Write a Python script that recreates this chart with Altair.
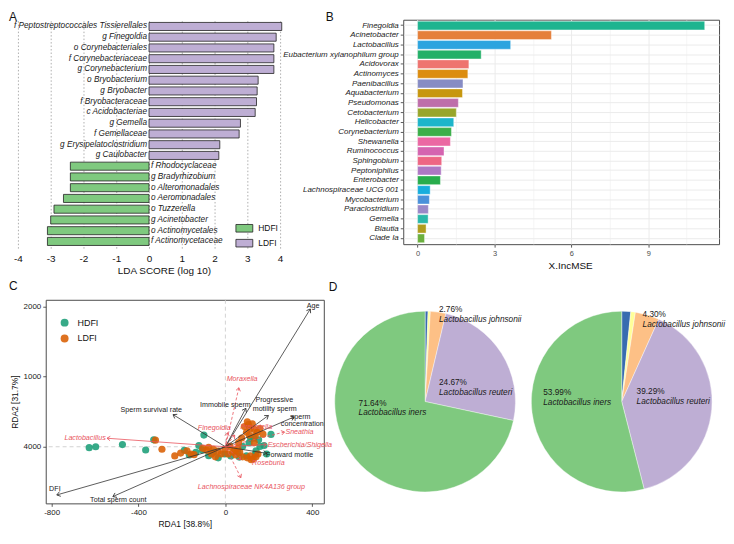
import math
import altair as alt
import pandas as pd

FONT = "Liberation Sans"

# ---------------- Panel A : LEfSe LDA scores ----------------
A_TAXA = [
    "f Peptostreptococcales Tissierellales", "g Finegoldia", "o Corynebacteriales",
    "f Corynebacteriaceae", "g Corynebacterium", "o Bryobacterium", "g Bryobacter",
    "f Bryobacteraceae", "c Acidobacteriae", "g Gemella", "f Gemellaceae",
    "g Erysipelatoclostridium", "g Caulobacter", "f Rhodocyclaceae", "g Bradyrhizobium",
    "o Alteromonadales", "o Aeromonadales", "o Tuzzerella", "g Acinetobacter",
    "o Actinomycetales", "f Actinomycetaceae",
]
A_LDA = [4.05, 3.88, 3.81, 3.81, 3.81, 3.33, 3.30, 3.28, 3.24, 2.79, 2.75, 2.16, 2.13,
         -2.40, -2.40, -2.40, -2.61, -2.90, -3.00, -3.10, -3.10]
A_GROUP = ["LDFI"] * 13 + ["HDFI"] * 8
A_TICKS = [-4, -3, -2, -1, 0, 1, 2, 3, 4]
GROUPS = ["HDFI", "LDFI"]
A_COLORS = ["#7FC97F", "#BEAED4"]

# ---------------- Panel B : random forest importance ----------------
B_GENERA = [
    "Finegoldia", "Acinetobacter", "Lactobacillus", "Eubacterium xylanophilum group",
    "Acidovorax", "Actinomyces", "Paenibacillus", "Aquabacterium", "Pseudomonas",
    "Cetobacterium", "Helicobacter", "Corynebacterium", "Shewanella", "Ruminococcus",
    "Sphingobium", "Peptoniphilus", "Enterobacter", "Lachnospiraceae UCG 001",
    "Mycobacterium", "Paraclostridium", "Gemella", "Blautia", "Clade Ia",
]
B_VALUES = [11.2, 5.22, 3.63, 2.48, 2.00, 1.96, 1.77, 1.75, 1.59, 1.51, 1.41, 1.32, 1.28,
            1.03, 0.94, 0.92, 0.89, 0.49, 0.46, 0.42, 0.41, 0.33, 0.27]
B_COLORS = [
    "#1EB48F", "#E57F3A", "#2CA4DF", "#23B068", "#EE746F", "#DC8D10", "#878CC4",
    "#C7970E", "#BE6EAA", "#98A62A", "#1DB5CA", "#3BAF49", "#EB68A3", "#D564B0",
    "#EE6684", "#AE78C4", "#28AD4D", "#17AEDD", "#4A91DA", "#9A88C8", "#2AB8AA",
    "#B09D1E", "#6BB03E",
]
B_TICKS = [0, 1.5, 3, 4.5, 6, 7.5, 9, 10.5]

# ---------------- Panel C : RDA biplot ----------------
C_HDFI_X = [-627, -597, -474, -367, -330, -166, -99, -33, 210, 178, 141, 109, 116, 64, -107,
            -136, -77, 138, 153, 131, 57, -3, -55, 25, -189, 190, 97, -122, 159, 79]
C_HDFI_Y = [-13, 0, 31, -46, 98, -117, 166, -158, 175, 18, -59, 54, 121, -148, -46,
            -81, -127, -104, 98, 121, -81, -104, -77, -131, -50, -104, -131, 18, 4, 4]
C_LDFI_X = [-322, -292, -206, -177, -144, -159, -86, -77, -55, -33, -19, 12, 34, 48, 66,
            79, 101, 115, 128, 141, 88, 106, 115, 124, 133, 146, 159, 173, 97, 110,
            137, 75, -46, -1, 21, 43, 57, -104, -64, -233, 150, 119, 101, 61, 133]
C_LDFI_Y = [94, -36, -90, -59, -113, -104, -50, -9, -36, -63, -104, -104, -77, -117, -77,
            -144, -158, -131, -171, -144, 287, 314, 260, 328, 247, 206, 260, 179, 206, 166,
            152, 125, -144, -36, 4, -50, -23, -23, -104, -131, -104, -185, 355, 58, 58]
C_COLORS = ["#1B9E77", "#D95F02"]

ENV_NAMES = ["Age", "Progressive motility sperm", "Immobile sperm", "Sperm concentration",
             "Sperm survival rate", "Forward motile", "DFI", "Total sperm count"]
ENV_X = [391, 198, 94, 317, -241, 190, -776, -518]
ENV_Y = [1963, 445, 547, 426, 458, -94, -687, -710]
ENV_LABELS = ["Age", "Progressive", "motility sperm", "Immobile sperm", "sperm",
              "concentration", "Sperm survival rate", "Forward motile", "DFI",
              "Total sperm count"]
ENV_LABEL_X = [404, 225, 227, 0, 346, 354, -341, 296, -785, -493]
ENV_LABEL_Y = [1999, 660, 543, 601, 426, 318, 526, -113, -607, -764]

SP_NAMES = ["Lactobacillus", "Moraxella", "Finegoldia", "Prevotella", "Sneathia",
            "Escherichia/Shigella", "Roseburia", "Lachnospiraceae NK4A136 group"]
SP_X = [-545, 62, 10, 43, 272, 190, 71, 71]
SP_Y = [121, 840, 200, 166, 210, 31, -185, -440]
SP_LABEL_X = [-646, 77, -51, 142, 341, 343, 198, 120]
SP_LABEL_Y = [121, 965, 270, 278, 206, 27, -225, -576]
SP_DASHED = ["Moraxella", "Finegoldia", "Prevotella", "Sneathia", "Roseburia",
             "Lachnospiraceae NK4A136 group"]

# ---------------- Panel D : Lactobacillus composition ----------------
D_PIES = ["HDFI", "LDFI"]
D_SPECIES = ["Lactobacillus spp.", "Others", "Lactobacillus johnsonii",
             "Lactobacillus reuteri", "Lactobacillus iners"]
D_LEFT = [0.52, 0.41, 2.76, 24.67, 71.64]
D_RIGHT = [1.60, 0.82, 4.30, 39.29, 53.99]
D_COLORS = ["#386CB0", "#FFFF99", "#FDC086", "#BEAED4", "#7FC97F"]

# ---------------- layout / style ----------------
W1, W2 = 280, 318
H1, H2 = 230, 205
HB = 226
TXT = "#111111"
RED = "#E9545E"
DARK = "#333333"


def panel_title(letter, dx, offset):
    return alt.TitleParams(letter, anchor="start", frame="group", dx=dx, fontSize=12,
                           fontWeight="normal", color=TXT, offset=offset)


# ---- A ----
a_df = pd.DataFrame({"taxon": A_TAXA, "lda": A_LDA, "group": A_GROUP})
a_scale = alt.Scale(domain=[-4, 4], range=[-28, 236], nice=False, zero=False)
a_axis = alt.Axis(values=A_TICKS, labelExpr="'' + datum.value", grid=True, gridDash=[1.5, 2],
                  gridColor="#9a9a9a", gridWidth=0.8, domain=False, ticks=False,
                  labelFontSize=10, labelColor=TXT, labelPadding=5, labelFlush=False,
                  labelOverlap=False, titleFontSize=10, titleFontWeight="normal",
                  titleColor=TXT, titlePadding=3, titleX=119)
a_title = "LDA SCORE (log 10)"
a_y = alt.Y("taxon:N", sort=A_TAXA, axis=None,
            scale=alt.Scale(paddingInner=0.25, paddingOuter=0.25))
a_bars = alt.Chart(a_df).mark_bar(stroke="#222222", strokeWidth=0.8).encode(
    x=alt.X("lda:Q", title=a_title, scale=a_scale, axis=a_axis),
    x2=alt.datum(0),
    y=a_y,
    color=alt.Color("group:N", scale=alt.Scale(domain=GROUPS, range=A_COLORS),
                    legend=alt.Legend(orient="none", legendX=191, legendY=201, title=None,
                                      symbolType="M-1,-0.45H1V0.45H-1Z", symbolSize=289,
                                      symbolStrokeColor="#222222", symbolStrokeWidth=0.8,
                                      symbolOpacity=1, labelFontSize=8.5, labelColor=TXT,
                                      labelOffset=5, rowPadding=-2)),
)
a_text = alt.Chart(a_df).transform_calculate(zero="0")
a_pos = a_text.transform_filter("datum.lda > 0").mark_text(
    align="right", baseline="middle", dx=-2, fontSize=8.3, fontStyle="italic", color="#1a1a1a"
).encode(x=alt.X("zero:Q", title=a_title, scale=a_scale, axis=a_axis), y=a_y, text="taxon:N")
a_neg = a_text.transform_filter("datum.lda < 0").mark_text(
    align="left", baseline="middle", dx=2, fontSize=8.3, fontStyle="italic", color="#1a1a1a"
).encode(x=alt.X("zero:Q", title=a_title, scale=a_scale, axis=a_axis), y=a_y, text="taxon:N")
chart_a = alt.layer(a_bars, a_pos, a_neg).properties(
    width=W1, height=H1, title=panel_title("A", -37, -4))

# ---- B ----
b_df = pd.DataFrame({"genus": B_GENERA, "inc": B_VALUES})
major = "datum.value % 3 === 0"
b_axis_x = alt.Axis(values=B_TICKS, labelExpr=f"{major} ? datum.label : ''", grid=True,
                    gridColor="#EBEBEB",
                    gridWidth={"condition": {"test": major, "value": 1.0}, "value": 0.5},
                    tickColor={"condition": {"test": major, "value": DARK}, "value": "transparent"},
                    tickSize=3, tickWidth=0.8, domain=False, labelFontSize=7.5,
                    labelColor="#4D4D4D", labelPadding=2, labelFlush=False, labelOverlap=False,
                    titleFontSize=10, titleFontWeight="normal", titleColor=TXT,
                    titlePadding=4, titleX=168)
b_axis_y = alt.Axis(title=None, labelFontStyle="italic", labelFontSize=8, labelColor="#222222",
                    tickSize=3, tickColor=DARK, tickWidth=0.8, domain=False, grid=True,
                    gridColor="#EBEBEB", gridWidth=1, labelPadding=2, bandPosition=0.5)
chart_b = alt.Chart(b_df).mark_bar(stroke="#ffffff", strokeWidth=0.5, strokeOpacity=0.8).encode(
    x=alt.X("inc:Q", title="X.IncMSE",
            scale=alt.Scale(domain=[-0.56, 11.76], nice=False, zero=False), axis=b_axis_x),
    x2=alt.datum(0),
    y=alt.Y("genus:N", sort=B_GENERA, axis=b_axis_y,
            scale=alt.Scale(paddingInner=0.1, paddingOuter=0.15)),
    color=alt.Color("genus:N", scale=alt.Scale(domain=B_GENERA, range=B_COLORS), legend=None),
).properties(width=W2, height=HB, title=panel_title("B", -78, -4),
             view=alt.ViewBackground(stroke="#4d4d4d", strokeWidth=1))

# ---- C ----
C_XDOM = [-827, 453]
C_YDOM = [-807, 2094]
KX = W1 / (C_XDOM[1] - C_XDOM[0])
KY = H2 / (C_YDOM[1] - C_YDOM[0])
cx = alt.X("x:Q", title="RDA1 [38.8%]", scale=alt.Scale(domain=C_XDOM, nice=False, zero=False),
           axis=alt.Axis(values=[-800, -400, 0, 400], labelExpr="'' + datum.value",
                         grid=False, domain=False,
                         tickSize=3, tickColor=DARK, tickWidth=0.8, labelFontSize=8,
                         labelColor="#222222", labelPadding=2, labelFlush=False,
                         labelOverlap=False, titleFontSize=8.5, titleFontWeight="normal",
                         titleColor=TXT, titlePadding=3))
cy = alt.Y("y:Q", title="RDA2 [31.7%]", scale=alt.Scale(domain=C_YDOM, nice=False, zero=False),
           axis=alt.Axis(values=[0, 1000, 2000],
                         labelExpr="datum.value === 0 ? '4000' : '' + datum.value",
                         grid=False, domain=False, tickSize=3, tickColor=DARK, tickWidth=0.8,
                         labelFontSize=8, labelColor="#222222", labelPadding=2,
                         labelFlush=False, labelOverlap=False, titleFontSize=8.5,
                         titleFontWeight="normal", titleColor=TXT, titlePadding=4))

pts_df = pd.DataFrame({
    "x": C_HDFI_X + C_LDFI_X,
    "y": C_HDFI_Y + C_LDFI_Y,
    "group": ["HDFI"] * len(C_HDFI_X) + ["LDFI"] * len(C_LDFI_X),
})
zero_df = pd.DataFrame({"x": [0], "y": [0]})
env_df = pd.DataFrame({"x": ENV_X, "y": ENV_Y, "name": ENV_NAMES})
env_lab_df = pd.DataFrame({"x": ENV_LABEL_X, "y": ENV_LABEL_Y, "label": ENV_LABELS})
sp_df = pd.DataFrame({"x": SP_X, "y": SP_Y, "name": SP_NAMES,
                      "dashed": [n in SP_DASHED for n in SP_NAMES]})
sp_lab_df = pd.DataFrame({"x": SP_LABEL_X, "y": SP_LABEL_Y, "label": SP_NAMES})

CHEVRON = "M-0.7,1L0,0L0.7,1"
ang_expr = f"(atan2(datum.x * {KX}, datum.y * {KY}) * 180 / PI + 360) % 360"

zero_v = alt.Chart(zero_df).mark_rule(color="#c8c8c8", strokeDash=[4, 3], strokeWidth=0.8).encode(x=cx)
zero_h = alt.Chart(zero_df).mark_rule(color="#c8c8c8", strokeDash=[4, 3], strokeWidth=0.8).encode(y=cy)
points = alt.Chart(pts_df).mark_circle(size=52, opacity=0.88).encode(
    x=cx, y=cy,
    color=alt.Color("group:N", scale=alt.Scale(domain=GROUPS, range=C_COLORS),
                    legend=alt.Legend(orient="none", legendX=14, legendY=18, title=None,
                                      symbolType="circle", symbolSize=64, symbolOpacity=0.88,
                                      labelFontSize=9, labelColor=TXT, labelOffset=8,
                                      rowPadding=6)),
)
env_shaft = alt.Chart(env_df).transform_calculate(x0="0", y0="0").mark_rule(
    color=DARK, strokeWidth=0.8).encode(x=cx, y=cy, x2="x0:Q", y2="y0:Q")
env_head = alt.Chart(env_df).transform_calculate(ang=ang_expr).mark_point(
    shape=CHEVRON, filled=False, size=49, strokeWidth=0.8, color=DARK, opacity=1
).encode(x=cx, y=cy, angle=alt.Angle("ang:Q", scale=None))
sp_solid = alt.Chart(sp_df).transform_filter("!datum.dashed").transform_calculate(
    x0="0", y0="0").mark_rule(color=RED, strokeWidth=0.8).encode(x=cx, y=cy, x2="x0:Q", y2="y0:Q")
sp_dash = alt.Chart(sp_df).transform_filter("datum.dashed").transform_calculate(
    x0="0", y0="0").mark_rule(color=RED, strokeWidth=0.8, strokeDash=[3, 2]).encode(
    x=cx, y=cy, x2="x0:Q", y2="y0:Q")
sp_head = alt.Chart(sp_df).transform_calculate(ang=ang_expr).mark_point(
    shape=CHEVRON, filled=False, size=40, strokeWidth=0.8, color=RED, opacity=1
).encode(x=cx, y=cy, angle=alt.Angle("ang:Q", scale=None))
env_text = alt.Chart(env_lab_df).mark_text(fontSize=7.2, color="#1a1a1a", baseline="middle").encode(
    x=cx, y=cy, text="label:N")
sp_text = alt.Chart(sp_lab_df).mark_text(fontSize=7.2, color=RED, fontStyle="italic",
                                         baseline="middle").encode(x=cx, y=cy, text="label:N")
chart_c = alt.layer(zero_v, zero_h, points, env_shaft, sp_solid, sp_dash, env_head, sp_head,
                    env_text, sp_text).properties(
    width=W1, height=H2, title=panel_title("C", -37, 6),
    view=alt.ViewBackground(stroke="#4d4d4d", strokeWidth=1))

# ---- D ----
d_df = pd.DataFrame({
    "pie": [D_PIES[0]] * len(D_SPECIES) + [D_PIES[1]] * len(D_SPECIES),
    "species": D_SPECIES * 2,
    "pct": D_LEFT + D_RIGHT,
    "rank": list(range(len(D_SPECIES))) * 2,
})
d_x = alt.X("pie:N", axis=None,
            scale=alt.Scale(type="point", domain=D_PIES, range=[22, 220], padding=0))
d_base = alt.Chart(d_df).transform_window(
    end="sum(pct)", groupby=["pie"], sort=[alt.SortField("rank")], frame=[None, 0]
).transform_calculate(start="datum.end - datum.pct",
                      pct_label="format(datum.pct, '.2f') + '%'")
arcs = d_base.mark_arc(radius=91, stroke="#ffffff", strokeWidth=0.4).encode(
    theta=alt.Theta("start:Q", stack=None,
                    scale=alt.Scale(domain=[0, 100], range=[0, 2 * math.pi])),
    theta2="end:Q",
    x=d_x,
    color=alt.Color("species:N", scale=alt.Scale(domain=D_SPECIES, range=D_COLORS), legend=None),
)
# label placement relative to each pie centre: (dx, dy of percentage, dy of name)
D_LABEL_POS = {
    ("HDFI", "Lactobacillus johnsonii"): (14, -92, -82),
    ("HDFI", "Lactobacillus reuteri"): (14, -19, -9),
    ("HDFI", "Lactobacillus iners"): (-67, 2, 12),
    ("LDFI", "Lactobacillus johnsonii"): (21, -87, -77),
    ("LDFI", "Lactobacillus reuteri"): (15, -10, 0),
    ("LDFI", "Lactobacillus iners"): (-79, -9, 1),
}
d_layers = [arcs]
for (pie, sp), (ddx, dy1, dy2) in D_LABEL_POS.items():
    sel = d_base.transform_filter(f"datum.pie === '{pie}' && datum.species === '{sp}'")
    d_layers.append(sel.mark_text(align="left", baseline="middle", dx=ddx, dy=dy1,
                                  fontSize=8.3, color="#1a1a1a").encode(x=d_x, text="pct_label:N"))
    d_layers.append(sel.mark_text(align="left", baseline="middle", dx=ddx, dy=dy2,
                                  fontSize=8.3, fontStyle="italic", color="#1a1a1a").encode(
        x=d_x, text="species:N"))
chart_d = alt.layer(*d_layers).properties(width=W2, height=H2, title=panel_title("D", -75, 6))

chart = alt.concat(
    chart_a, chart_b, chart_c, chart_d,
    columns=2, spacing={"row": 52, "column": 80}, bounds="flush", align="each", padding=0,
).resolve_scale(
    color="independent", x="independent", y="independent"
).resolve_legend(color="independent").configure(font=FONT).configure_view(stroke=None)

chart.save("out.html", embed_options={"renderer": "svg", "actions": False})
